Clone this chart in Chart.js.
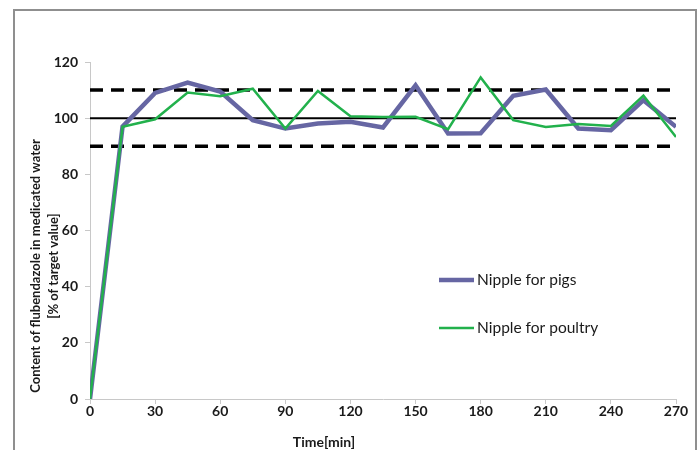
<!DOCTYPE html>
<html>
<head>
<meta charset="utf-8">
<script src="https://cdn.jsdelivr.net/npm/chart.js@4.4.1/dist/chart.umd.min.js"></script>
<style>
  html, body { margin: 0; padding: 0; background: #fff; }
  #wrap { position: relative; width: 699px; height: 450px; }
  #frame {
    position: absolute; left: 13px; top: 9px; width: 680px; height: 460px;
    border: 2px solid #8f8f8f; border-bottom: none;
  }
  canvas { position: absolute; left: 0; top: 0; }
</style>
</head>
<body>
<div id="wrap">
  <div id="frame"></div>
  <canvas id="lineChart" width="699" height="450"></canvas>
</div>
<script>
// sampling times (min)
const times = [0, 15, 30, 45, 60, 75, 90, 105, 120, 135, 150, 165, 180, 195, 210, 225, 240, 255, 270];
// content of flubendazole, % of target value
const pigs    = [0, 97, 109, 112.7, 109.5, 99.3, 96.3, 98.1, 98.7, 96.7, 111.7, 94.5, 94.6, 108, 110.2, 96.3, 95.7, 106.4, 96.9];
const poultry = [0, 96.9, 99.6, 109.1, 107.8, 110.5, 96.3, 109.7, 100.7, 100.4, 100.5, 96.1, 114.5, 99.3, 96.9, 97.9, 97.2, 108, 93.3];
// target and tolerance limits
const limitTimes = [0, 270];
const target = [100, 100];
const upper = [110, 110];
const lower = [90, 90];
const xTicks = [0, 30, 60, 90, 120, 150, 180, 210, 240, 270];
const yTicks = [0, 20, 40, 60, 80, 100, 120];

const FONT = 'Lato, "Open Sans", sans-serif';
const toPts = (xs, ys) => xs.map((x, i) => ({ x: x, y: ys[i] }));

// legend + axis titles drawn at fixed spots like the original
const extras = {
  id: 'extras',
  afterDraw(chart) {
    const c = chart.ctx;
    c.save();
    c.fillStyle = '#1a1a1a';
    c.textBaseline = 'middle';
    c.textAlign = 'left';
    c.font = '15.5px ' + FONT;
    const items = [
      { label: 'Nipple for pigs', color: '#6666a3', width: 4.5, y: 280 },
      { label: 'Nipple for poultry', color: '#22b14c', width: 2.5, y: 328 }
    ];
    items.forEach(it => {
      c.strokeStyle = it.color;
      c.lineWidth = it.width;
      c.beginPath();
      c.moveTo(439, it.y);
      c.lineTo(474, it.y);
      c.stroke();
      c.fillText(it.label, 477, it.y);
    });

    c.font = 'bold 14px ' + FONT;
    c.textAlign = 'center';
    c.fillText('Time[min]', 324, 442);

    c.translate(45, 266);
    c.rotate(-Math.PI / 2);
    c.font = 'bold 13px ' + FONT;
    c.fillText('Content of flubendazole in medicated water', 0, -9);
    c.fillText('[% of target value]', 0, 9);
    c.restore();
  }
};

new Chart(document.getElementById('lineChart').getContext('2d'), {
  type: 'line',
  data: {
    datasets: [
      { label: 'Nipple for poultry', data: toPts(times, poultry), borderColor: '#22b14c', borderWidth: 2.5, order: 0 },
      { label: 'Nipple for pigs', data: toPts(times, pigs), borderColor: '#6666a3', borderWidth: 4.5, order: 1 },
      { label: 'Target', data: toPts(limitTimes, target), borderColor: '#000', borderWidth: 2, order: 2 },
      { label: 'Upper', data: toPts(limitTimes, upper), borderColor: '#000', borderWidth: 3.5, borderDash: [13, 8], order: 2 },
      { label: 'Lower', data: toPts(limitTimes, lower), borderColor: '#000', borderWidth: 3.5, borderDash: [13, 8], order: 2 }
    ]
  },
  options: {
    responsive: false,
    animation: false,
    layout: { padding: { left: 0, top: 62, right: 23, bottom: 0 } },
    elements: {
      point: { radius: 0 },
      line: { tension: 0, fill: false, borderCapStyle: 'butt' }
    },
    plugins: { legend: { display: false }, tooltip: { enabled: false } },
    scales: {
      x: {
        type: 'linear', min: 0, max: 270,
        afterBuildTicks: s => { s.ticks = xTicks.map(v => ({ value: v })); },
        afterFit: s => { s.height = 51; },
        grid: { drawOnChartArea: false, drawTicks: true, tickLength: 5, color: '#c8c8c8' },
        border: { color: '#c8c8c8', width: 1 },
        ticks: { color: '#1a1a1a', font: { family: FONT, size: 14, weight: 'bold' }, padding: -1, maxRotation: 0 }
      },
      y: {
        min: 0, max: 120,
        afterBuildTicks: s => { s.ticks = yTicks.map(v => ({ value: v })); },
        afterFit: s => { s.width = 90; },
        grid: { drawOnChartArea: false, drawTicks: true, tickLength: 5, color: '#c8c8c8' },
        border: { color: '#c8c8c8', width: 1 },
        ticks: { color: '#1a1a1a', font: { family: FONT, size: 14, weight: 'bold' }, padding: 7 }
      }
    }
  },
  plugins: [extras]
});
</script>
</body>
</html>
